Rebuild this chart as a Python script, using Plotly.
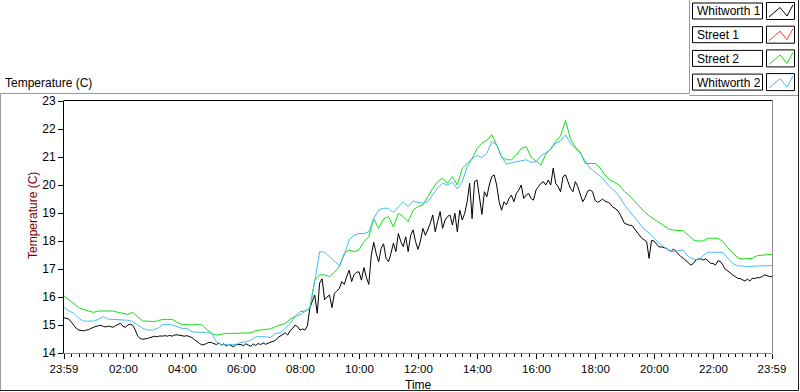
import plotly.graph_objects as go

# ---------------- data ----------------
series_names = ["Whitworth 1", "Street 1", "Street 2", "Whitworth 2"]
series_colors = ["#000000", "#ff3c3c", "#14e014", "#45bdf5"]

x_tick_labels = ["23:59", "02:00", "04:00", "06:00", "08:00", "10:00", "12:00",
                 "14:00", "16:00", "18:00", "20:00", "22:00", "23:59"]
y_ticks = [14, 15, 16, 17, 18, 19, 20, 21, 22, 23]

# Whitworth 1: 5-minute samples, one row per hour, starting at 23:59
whitworth1 = [
    15.26, 15.24, 15.21, 15.1, 14.98, 14.88, 14.82, 14.81, 14.79, 14.82, 14.83, 14.88,
    14.92, 14.95, 14.97, 14.99, 14.95, 14.93, 14.96, 14.93, 14.92, 14.98, 15.02, 15.06,
    14.95, 14.92, 15.0, 15.03, 14.98, 14.82, 14.6, 14.52, 14.49, 14.5, 14.52, 14.55,
    14.57, 14.6, 14.58, 14.61, 14.6, 14.62, 14.6, 14.63, 14.6, 14.64, 14.65, 14.63,
    14.62, 14.6, 14.62, 14.58, 14.55, 14.48, 14.4, 14.35, 14.29, 14.3, 14.34, 14.38,
    14.37, 14.33, 14.3, 14.36, 14.28, 14.33, 14.25, 14.31, 14.27, 14.22, 14.3, 14.29,
    14.3, 14.26, 14.33, 14.28, 14.24, 14.32, 14.27, 14.34, 14.3, 14.36, 14.31, 14.35,
    14.38, 14.4, 14.45, 14.55, 14.6, 14.67, 14.72, 14.64, 14.8, 14.88, 15.0, 14.94,
    14.82, 14.86, 14.82, 14.97, 15.6, 15.85, 16.07, 15.42, 16.5, 16.65, 15.9, 16.0,
    16.07, 15.62, 16.13, 16.22, 16.3, 16.55, 16.45, 16.73, 16.96, 16.55, 16.8, 16.88,
    16.9, 16.6, 17.05, 16.7, 16.45, 17.5, 17.95, 17.55, 17.26, 17.74, 17.9, 17.38,
    17.26, 17.56, 17.92, 17.62, 18.27, 17.98, 17.8, 18.15, 17.62, 18.2, 18.4, 17.98,
    17.7, 18.0, 18.45, 18.2, 18.42, 18.63, 18.93, 18.33, 18.7, 19.05, 18.45, 18.75,
    18.87, 18.93, 18.57, 18.99, 18.33, 19.1, 18.75, 18.99, 19.4, 20.06, 18.8, 20.12,
    20.18, 19.64, 18.95, 19.76, 19.58, 20.0, 20.3, 20.36, 20.0, 19.4, 19.1, 19.4,
    19.29, 19.52, 19.64, 19.4, 19.7, 19.82, 20.0, 19.52, 19.64, 19.7, 19.52, 19.46,
    19.82, 19.94, 20.06, 20.12, 20.0, 20.18, 20.0, 20.6, 20.06, 19.94, 19.76, 20.3,
    20.36, 20.12, 19.88, 19.76, 20.12, 19.94, 19.64, 19.4, 19.55, 19.78, 19.82, 19.76,
    19.46, 19.38, 19.42, 19.5, 19.43, 19.4, 19.35, 19.23, 19.17, 19.11, 18.99, 18.82,
    18.63, 18.6, 18.56, 18.56, 18.45, 18.33, 18.19, 18.1, 18.04, 17.98, 17.38, 18.02,
    18.0, 17.9, 17.79, 17.79, 17.76, 17.74, 17.67, 17.64, 17.71, 17.62, 17.52, 17.44,
    17.38, 17.3, 17.2, 17.14, 17.2, 17.32, 17.36, 17.36, 17.32, 17.36, 17.29, 17.2,
    17.2, 17.14, 17.29, 17.27, 17.14, 16.99, 16.93, 16.85, 16.79, 16.73, 16.67, 16.66,
    16.6, 16.57, 16.64, 16.57, 16.67, 16.66, 16.69, 16.69, 16.73, 16.79, 16.76, 16.73,
    16.73,
]

# Street 1: no samples visible in the chart
street1 = []

# Street 2: 10-minute samples, one row per hour
street2 = [
    16.04, 15.9, 15.75, 15.62, 15.55, 15.5,
    15.45, 15.5, 15.5, 15.52, 15.5, 15.45,
    15.42, 15.38, 15.45, 15.3, 15.14, 15.14,
    15.12, 15.14, 15.2, 15.2, 15.2, 15.1,
    15.02, 15.02, 15.0, 15.02, 15.0, 14.85,
    14.7, 14.64, 14.68, 14.7, 14.7, 14.7,
    14.7, 14.7, 14.72, 14.8, 14.82, 14.82,
    14.86, 14.94, 15.0, 15.06, 15.21, 15.3,
    15.48, 15.5, 15.6, 16.6, 16.79, 16.79,
    16.73, 16.88, 17.08, 17.56, 17.68, 17.62,
    17.68, 17.98, 18.15, 18.8, 18.45, 18.79,
    18.87, 18.5, 18.99, 18.87, 18.69, 19.1,
    19.23, 19.29, 19.58, 19.88, 20.12, 20.24,
    20.06, 20.3, 20.0, 20.6, 20.77, 20.95,
    21.3, 21.49, 21.6, 21.8, 21.43, 21.0,
    20.9, 20.9, 21.07, 21.3, 21.37, 21.0,
    20.86, 20.71, 21.1, 21.3, 21.55, 21.76,
    22.3, 21.67, 21.35, 21.19, 20.77, 20.77,
    20.77, 20.62, 20.36, 20.18, 20.1, 19.98,
    19.76, 19.62, 19.43, 19.23, 19.05, 18.9,
    18.79, 18.67, 18.54, 18.43, 18.39, 18.38,
    18.36, 18.21, 18.04, 18.0, 18.0, 18.1,
    18.1, 18.1, 17.98, 17.76, 17.6, 17.4,
    17.36, 17.36, 17.38, 17.48, 17.5, 17.52,
    17.52,
]

# Whitworth 2: 10-minute samples, one row per hour
whitworth2 = [
    15.62, 15.5, 15.42, 15.24, 15.14, 15.14,
    15.14, 15.2, 15.3, 15.21, 15.2, 15.2,
    15.18, 15.17, 15.12, 15.0, 14.88, 14.82,
    14.82, 14.88, 15.0, 15.02, 15.0, 14.94,
    14.88, 14.88, 14.76, 14.74, 14.74, 14.74,
    14.7, 14.4, 14.29, 14.29, 14.31, 14.31,
    14.38, 14.4, 14.46, 14.58, 14.58, 14.58,
    14.55, 14.7, 14.72, 14.9, 15.06, 15.3,
    15.36, 15.48, 15.6, 16.55, 17.62, 17.6,
    17.44, 17.26, 17.12, 17.5, 18.04, 18.21,
    18.27, 18.27, 18.33, 18.81, 19.11, 19.17,
    19.17, 19.02, 19.23, 19.4, 19.23, 19.43,
    19.38, 19.35, 19.4, 19.64, 19.9, 20.06,
    20.0, 20.1, 19.86, 20.12, 20.65, 20.93,
    21.05, 20.98, 21.13, 21.55, 21.43, 21.01,
    20.74, 20.8, 20.83, 20.85, 20.9, 20.81,
    20.83, 21.04, 21.17, 21.27, 21.49, 21.57,
    21.79, 21.49, 21.31, 21.13, 20.86, 20.6,
    20.46, 20.32, 20.14, 19.94, 19.79, 19.58,
    19.29, 19.07, 18.85, 18.65, 18.42, 18.29,
    18.11, 17.94, 17.79, 17.67, 17.61, 17.67,
    17.67, 17.44, 17.36, 17.32, 17.48, 17.6,
    17.6, 17.6, 17.6, 17.38, 17.2, 17.11,
    17.11, 17.08, 17.1, 17.11, 17.11, 17.12,
    17.12,
]

# time axis: hours elapsed since 23:59
t5 = [k / 12 for k in range(len(whitworth1))]
t10 = [k / 6 for k in range(len(street2))]

series_values = [whitworth1, street1, street2, whitworth2]
series_times = [t5, [], t10, t10]

# ---------------- layout geometry ----------------
W, H = 800, 392
L, R, T, B = 64, 28, 101, 39
PW, PH = W - L - R, H - T - B


def px(x):
    return (x - L) / PW


def py(y):
    return (H - B - y) / PH


FONT = "Liberation Sans, Arial, sans-serif"

fig = go.Figure()
for name, color, xs, ys in zip(series_names, series_colors, series_times, series_values):
    fig.add_trace(go.Scatter(x=xs, y=ys, mode="lines", name=name,
                             line=dict(color=color, width=1), showlegend=False))

major_vals = [0] + [2 * i + 1 / 60 for i in range(1, 12)] + [24]
minor_vals = [q / 4 + 1 / 60 for q in range(1, 96) if q % 8 != 0]

shapes = []


def line(x0, y0, x1, y1, color, w=1):
    shapes.append(dict(type="line", xref="paper", yref="paper",
                       x0=px(x0), y0=py(y0), x1=px(x1), y1=py(y1),
                       line=dict(color=color, width=w), layer="above"))


# outer frame
line(0.5, 93.5, 689.5, 93.5, "#9a9a9a")
line(689.5, 0, 689.5, 93.5, "#9a9a9a")
line(689.5, 95.5, 798, 95.5, "#9a9a9a")
line(0.5, 93.5, 0.5, 391, "#9a9a9a")
line(0, 390.5, 798.5, 390.5, "#202020")
line(798.5, 0, 798.5, 391, "#202020")
# plot frame top / right
line(63.5, 100.5, 772.5, 100.5, "#000000")
line(772.5, 100.5, 772.5, 353, "#8c8c8c")

annotations = []
# legend (names in boxes with line icons on the right)
for i, (name, color) in enumerate(zip(series_names, series_colors)):
    top = 3 + i * 23.7
    shapes.append(dict(type="rect", xref="paper", yref="paper",
                       x0=px(692.5), x1=px(762.5), y0=py(top), y1=py(top + 16),
                       line=dict(color="#000000", width=1), fillcolor="white"))
    shapes.append(dict(type="rect", xref="paper", yref="paper",
                       x0=px(766.5), x1=px(794.5), y0=py(top - 0.5), y1=py(top + 16.5),
                       line=dict(color="#000000", width=1), fillcolor="white"))
    pts = [(769, top + 14), (780, top + 4.5), (787, top + 13), (793, top + 2)]
    path = "M " + " L ".join(f"{px(a)},{py(b)}" for a, b in pts)
    shapes.append(dict(type="path", xref="paper", yref="paper", path=path,
                       line=dict(color=color, width=1)))
    annotations.append(dict(text=name, xref="paper", yref="paper", x=px(694.5),
                            y=py(top + 8.5), xanchor="left", yanchor="middle",
                            showarrow=False, font=dict(family=FONT, size=12, color="#000000")))

annotations.append(dict(text="Temperature (C)", xref="paper", yref="paper", x=px(3),
                        y=py(82.5), xanchor="left", yanchor="middle", showarrow=False,
                        font=dict(family=FONT, size=12, color="#000000")))
annotations.append(dict(text="Temperature (C)", xref="paper", yref="paper", x=px(33),
                        y=py(216), xanchor="center", yanchor="middle", textangle=-90,
                        showarrow=False, font=dict(family=FONT, size=12, color="#7a0000")))
annotations.append(dict(text="Time", xref="paper", yref="paper", x=px(419),
                        y=py(384.5), xanchor="center", yanchor="middle", showarrow=False,
                        font=dict(family=FONT, size=12, color="#000000")))

fig.update_layout(
    width=W, height=H,
    margin=dict(l=L, r=R, t=T, b=B, pad=0),
    paper_bgcolor="white", plot_bgcolor="white",
    font=dict(family=FONT, size=12, color="#000000"),
    shapes=shapes, annotations=annotations, showlegend=False,
    xaxis=dict(range=[0, 24], tickmode="array", tickvals=major_vals, ticktext=x_tick_labels,
               ticks="outside", ticklen=5, tickwidth=1, tickcolor="#000000",
               showline=True, linecolor="#8c8c8c", linewidth=1, showgrid=False,
               zeroline=False, automargin=False, tickfont=dict(family=FONT, size=11.5),
               minor=dict(tickvals=minor_vals, ticks="outside", ticklen=3,
                          tickcolor="#000000", tickwidth=1, showgrid=False)),
    yaxis=dict(range=[14, 23], tickmode="array", tickvals=y_ticks,
               ticktext=[str(v) for v in y_ticks],
               ticks="outside", ticklen=5, tickwidth=1, tickcolor="#000000",
               showline=True, linecolor="#000000", linewidth=1, showgrid=False,
               zeroline=False, automargin=False, tickfont=dict(family=FONT, size=12)),
)

fig.write_html("out.html", config={"displayModeBar": False, "staticPlot": True},
               post_script="document.body.style.margin='0';document.body.style.overflow='hidden';")
